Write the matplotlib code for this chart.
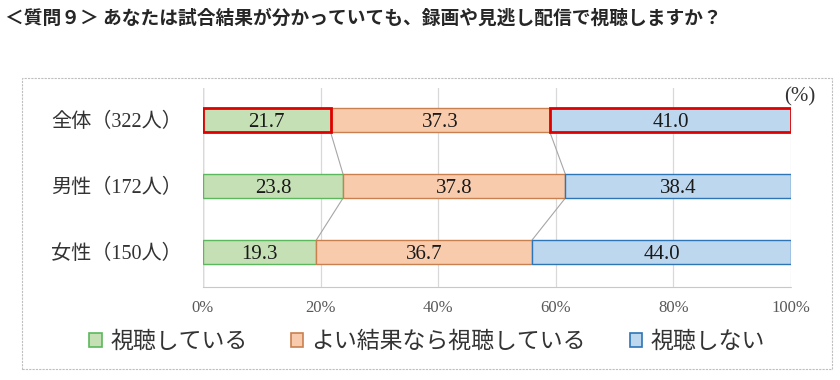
import matplotlib.pyplot as plt
import numpy as np
from matplotlib.patches import Rectangle, Patch

plt.rcParams["font.family"] = ["Liberation Serif", "Noto Sans CJK JP"]

title = "＜質問９＞ あなたは試合結果が分かっていても、録画や見逃し配信で視聴しますか？"
groups = ["全体（322人）", "男性（172人）", "女性（150人）"]
series = ["視聴している", "よい結果なら視聴している", "視聴しない"]
watch = [21.7, 23.8, 19.3]
if_good = [37.3, 37.8, 36.7]
not_watch = [41.0, 38.4, 44.0]
xticks = [0, 20, 40, 60, 80, 100]

fills = ["#c5e0b4", "#f8cbad", "#bdd7ee"]
edges = ["#5cb85c", "#c9804f", "#2e75b6"]

fig = plt.figure(figsize=(8.4, 3.8), dpi=100)
ax = fig.add_axes([203 / 840, 1 - 287 / 380, 588 / 840, 199 / 380])

# outer dashed chart frame
fig.patches.append(Rectangle((22 / 840, 1 - 369 / 380), 810 / 840, 291 / 380,
                             transform=fig.transFigure, fill=False,
                             edgecolor="#bfbfbf", lw=0.8, ls=(0, (2, 1))))

y = np.arange(len(groups))
h = 0.37
data = [watch, if_good, not_watch]
left = np.zeros(len(groups))
for s, vals in enumerate(data):
    vals = np.array(vals)
    bars = ax.barh(y, vals, left=left, height=h, color=fills[s],
                   edgecolor=edges[s], linewidth=1.0, zorder=3)
    for i, b in enumerate(bars):
        ax.text(left[i] + vals[i] / 2, y[i], f"{vals[i]:.1f}",
                ha="center", va="center_baseline", fontsize=15,
                color="#1a1a1a", zorder=5, family=["Liberation Serif"])
    # red highlight on 全体 for first and last series
    if s in (0, 2):
        bars[0].set_edgecolor("#e00000")
        bars[0].set_linewidth(2.0)
        bars[0].set_zorder(4)
    left = left + vals

# series lines between rows
cum = np.cumsum(np.array(data), axis=0)
for s in range(2):
    for i in range(len(groups) - 1):
        ax.plot([cum[s][i], cum[s][i + 1]], [y[i] + h / 2, y[i + 1] - h / 2],
                color="#a6a6a6", lw=0.8, zorder=2)

ax.set_xlim(0, 100)
ax.set_ylim(2 + 35 / 66, -32 / 66)
ax.set_xticks(xticks)
ax.set_xticklabels([f"{t}%" for t in xticks], fontsize=12, color="#595959")
ax.tick_params(axis="x", length=0, pad=9)
ax.set_yticks(y)
ax.set_yticklabels(groups, fontsize=14.5, color="#333333")
ax.tick_params(axis="y", length=0, pad=15)
ax.xaxis.grid(True, color="#d9d9d9", lw=0.9, zorder=0)
for sp in ["top", "right", "left"]:
    ax.spines[sp].set_visible(False)
ax.spines["bottom"].set_color("#c8c8c8")
ax.spines["bottom"].set_linestyle((0, (1, 1)))
ax.axvline(0, color="#c0c0c0", lw=1.0, zorder=1)

fig.text(800 / 840, 1 - 97 / 380, "(%)", ha="center", va="center",
         fontsize=15, color="#333333")

fig.text(5 / 840, 1 - 18 / 380, title, ha="left", va="center",
         fontsize=13.5, fontweight="bold", color="#262626",
         family=["Noto Sans CJK JP"])

handles = [Patch(facecolor=fills[s], edgecolor=edges[s], lw=1.2) for s in range(3)]
fig.legend(handles, series, loc="center", bbox_to_anchor=(427 / 840, 1 - 342 / 380),
           ncol=3, frameon=False, fontsize=16.5, handlelength=0.55, handleheight=0.55,
           handletextpad=0.35, columnspacing=1.9, labelcolor="#333333")

fig.savefig("out.png", dpi=100)
